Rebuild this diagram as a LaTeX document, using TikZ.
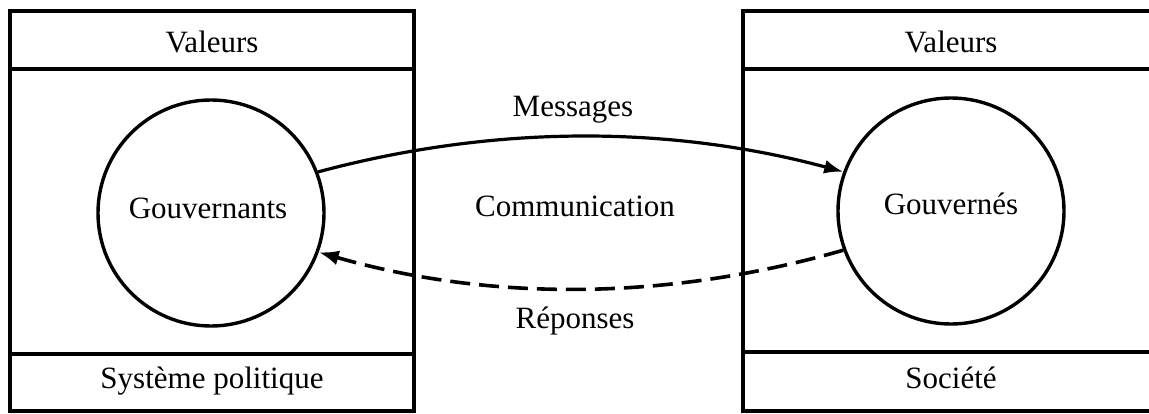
\documentclass[tikz,border=0pt]{standalone}
\usepackage{fontspec}
\setmainfont{Liberation Serif}
\usetikzlibrary{arrows.meta}
\newcommand\diaglabelfont{\fontsize{31}{37}\selectfont}
\begin{document}
\begin{tikzpicture}[x=1pt,y=-1pt,
  frame/.style={draw, rectangle, line width=3.6pt, inner sep=0pt},
  sepline/.style={line width=3.6pt},
  person/.style={draw, circle, line width=3.4pt, minimum size=226pt, inner sep=0pt},
  txt/.style={font=\diaglabelfont, inner sep=0pt},
  msg/.style={line width=3.2pt, -{Latex[length=19pt,width=14pt]}},
  rep/.style={line width=3.6pt, dash pattern=on 20pt off 9pt, -{Latex[length=20pt,width=15pt]}}
]
\useasboundingbox (0,0) rectangle (1149,413);
\clip (0,0) rectangle (1149,413);

% boxes
\node[frame, minimum width=404pt, minimum height=400pt] (lbox) at (212,211) {};
\node[frame, minimum width=416pt, minimum height=400pt] (rbox) at (951,211) {};
\draw[sepline] ([yshift=-60pt]lbox.north west) -- ([yshift=-60pt]lbox.north east);
\draw[sepline] ([yshift=59pt]lbox.south west) -- ([yshift=59pt]lbox.south east);
\draw[sepline] ([yshift=-60pt]rbox.north west) -- ([yshift=-60pt]rbox.north east);
\draw[sepline] ([yshift=61pt]rbox.south west) -- ([yshift=61pt]rbox.south east);

% box labels
\node[txt] (lval) at (212,42) {Valeurs};
\node[txt] (lsys) at (212,381) {Système politique};
\node[txt] (rval) at (951,42) {Valeurs};
\node[txt] (rsoc) at (951,378) {Société};

% circles
\node[person] (gov) at (211,213) {};
\node[person] (gvd) at (951,211) {};
\node[txt] (govt) at (208,208) {Gouvernants};
\node[txt] (gvdt) at (951,204) {Gouvernés};

% middle labels
\node[txt] (mes) at (573,110) {Messages};
\node[txt] (com) at (575,206) {Communication};
\node[txt] (rep) at (575,321) {Réponses};

% connectors
\draw[msg] (gov.21) .. controls +(175,-47) and +(-175,-47) .. (gvd.160.3);
\draw[rep] (gvd.200.3) .. controls +(-174,50) and +(174,50) .. (gov.-20.5);
\end{tikzpicture}
\end{document}
